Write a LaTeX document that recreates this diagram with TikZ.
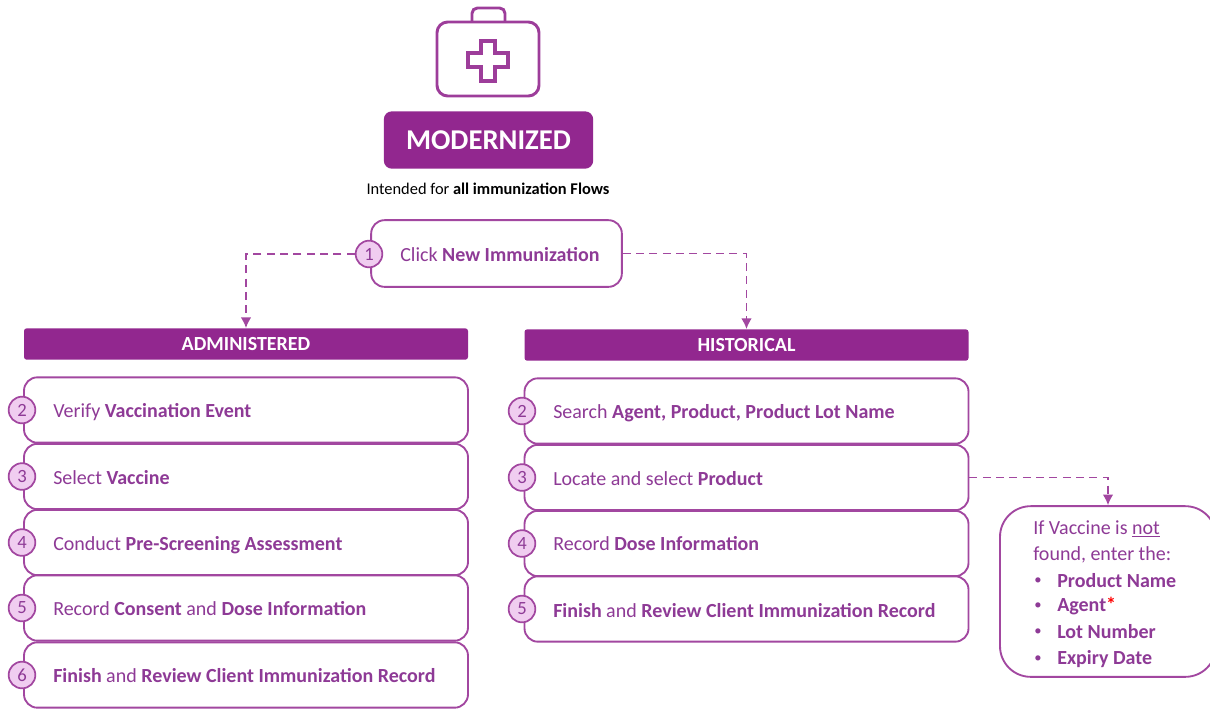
\documentclass[tikz,border=0pt]{standalone}
\usepackage{fontspec}
\setmainfont{Carlito}
\usetikzlibrary{arrows.meta}
\definecolor{modpurple}{HTML}{92278F}
\definecolor{numfill}{HTML}{F0CDF0}
\definecolor{textpurple}{HTML}{8E3A96}
\tikzset{
	rowbox/.style = {draw = modpurple!85, line width = 1.4pt, rounded corners = 10pt, fill = white, minimum width = 333pt, minimum height = 49pt},
	headbar/.style = {fill = modpurple, rounded corners = 2pt, minimum width = 333pt, minimum height = 23.5pt, text = white, font = \fontsize{15}{17}\selectfont\bfseries},
	numdot/.style = {circle, draw = modpurple!85, line width = 1.3pt, fill = numfill, text = textpurple, minimum size = 20pt, inner sep = 0pt, font = \fontsize{14}{16}\selectfont},
	rowtext/.style = {anchor = west, inner sep = 0pt, text = textpurple, font = \fontsize{15}{18}\selectfont},
	flowline/.style = {draw = modpurple!85, line width = 1.4pt, dash pattern = on 6pt off 4pt, -{Latex[length = 8pt, width = 8pt]}}
}
\begin{document}
\begin{tikzpicture}[x = 0.75pt, y = -0.75pt]
	\useasboundingbox (0,0) rectangle (1210,708);
	% kit icon
	\draw [modpurple!90, line width = 2.2pt, rounded corners = 4pt] (472,21) -- (472,8) -- (505,8) -- (505,21);
	\draw [modpurple!90, line width = 2.2pt, rounded corners = 8pt, fill = white] (437,22) rectangle (539,96);
	\draw [modpurple!90, line width = 2.6pt] (481,41) -- (495,41) -- (495,53) -- (508,53) -- (508,67) -- (495,67) -- (495,81) -- (481,81) -- (481,67) -- (468,67) -- (468,53) -- (481,53) -- cycle;
	% title
	\node [fill = modpurple, rounded corners = 6pt, minimum width = 157pt, minimum height = 43pt, text = white, font = \fontsize{21.5}{24}\selectfont\bfseries] (title) at (488.5,140) {MODERNIZED};
	\node [inner sep = 0pt, font = \fontsize{12.3}{14}\selectfont] (intended) at (488,188.5) {Intended for \textbf{all immunization Flows}};
	% step one
	\node [rowbox, minimum width = 188pt, minimum height = 50pt] (start) at (496.5,253.5) {};
	\node [numdot] (startnum) at (369,254) {1};
	\node [rowtext] (starttext) at (400,255) {Click \textbf{New Immunization}};
	% heads
	\node [headbar] (adminhead) at (246,344) {ADMINISTERED};
	\node [headbar] (histhead) at (746.5,345) {HISTORICAL};
	% left column
	\foreach \n/\y/\ty/\txt in {2/410/412/{Verify \textbf{Vaccination Event}},
		3/476.5/477.5/{Select \textbf{Vaccine}},
		4/542.5/545.5/{Conduct \textbf{Pre-Screening Assessment}},
		5/608/609/{Record \textbf{Consent} and \textbf{Dose Information}},
		6/675/676/{\textbf{Finish} and \textbf{Review Client Immunization Record}}}{
		\node [rowbox] (admin\n) at (246,\y) {};
		\node [numdot] (adminnum\n) at (22,\y) {\n};
		\node [rowtext] (admintext\n) at (53,\ty) {\txt};
	}
	% right column
	\foreach \n/\y/\ty/\txt in {2/411/413/{Search \textbf{Agent, Product, Product Lot Name}},
		3/477.5/479/{Locate and select \textbf{Product}},
		4/543.5/544/{Record \textbf{Dose Information}},
		5/609/611/{\textbf{Finish} and \textbf{Review Client Immunization Record}}}{
		\node [rowbox] (hist\n) at (746.5,\y) {};
		\node [numdot] (histnum\n) at (522,\y) {\n};
		\node [rowtext] (histtext\n) at (553,\ty) {\txt};
	}
	% note
	\node [rowbox, rounded corners = 23pt, minimum width = 162pt, minimum height = 128pt] (note) at (1108,591.5) {};
	\node [rowtext] (noteline1) at (1033,529) {If Vaccine is \underline{not}};
	\node [rowtext] (noteline2) at (1033,555) {found, enter the:};
	\foreach \n/\y/\txt in {3/581/{Product Name},
		4/606/{Agent\textcolor{red}{*}},
		5/632/{Lot Number},
		6/659/{Expiry Date}}{
		\node [rowtext, font = \fontsize{11}{13}\selectfont] (notedot\n) at (1034,\y) {•};
		\node [rowtext] (noteline\n) at (1057,\y) {\textbf{\txt}};
	}
	% links
	\draw [flowline] (startnum.west) -| (adminhead.north);
	\draw [flowline] (start.east) -| (histhead.north);
	\draw [flowline] (hist3.east) -| (note.north);
\end{tikzpicture}
\end{document}
